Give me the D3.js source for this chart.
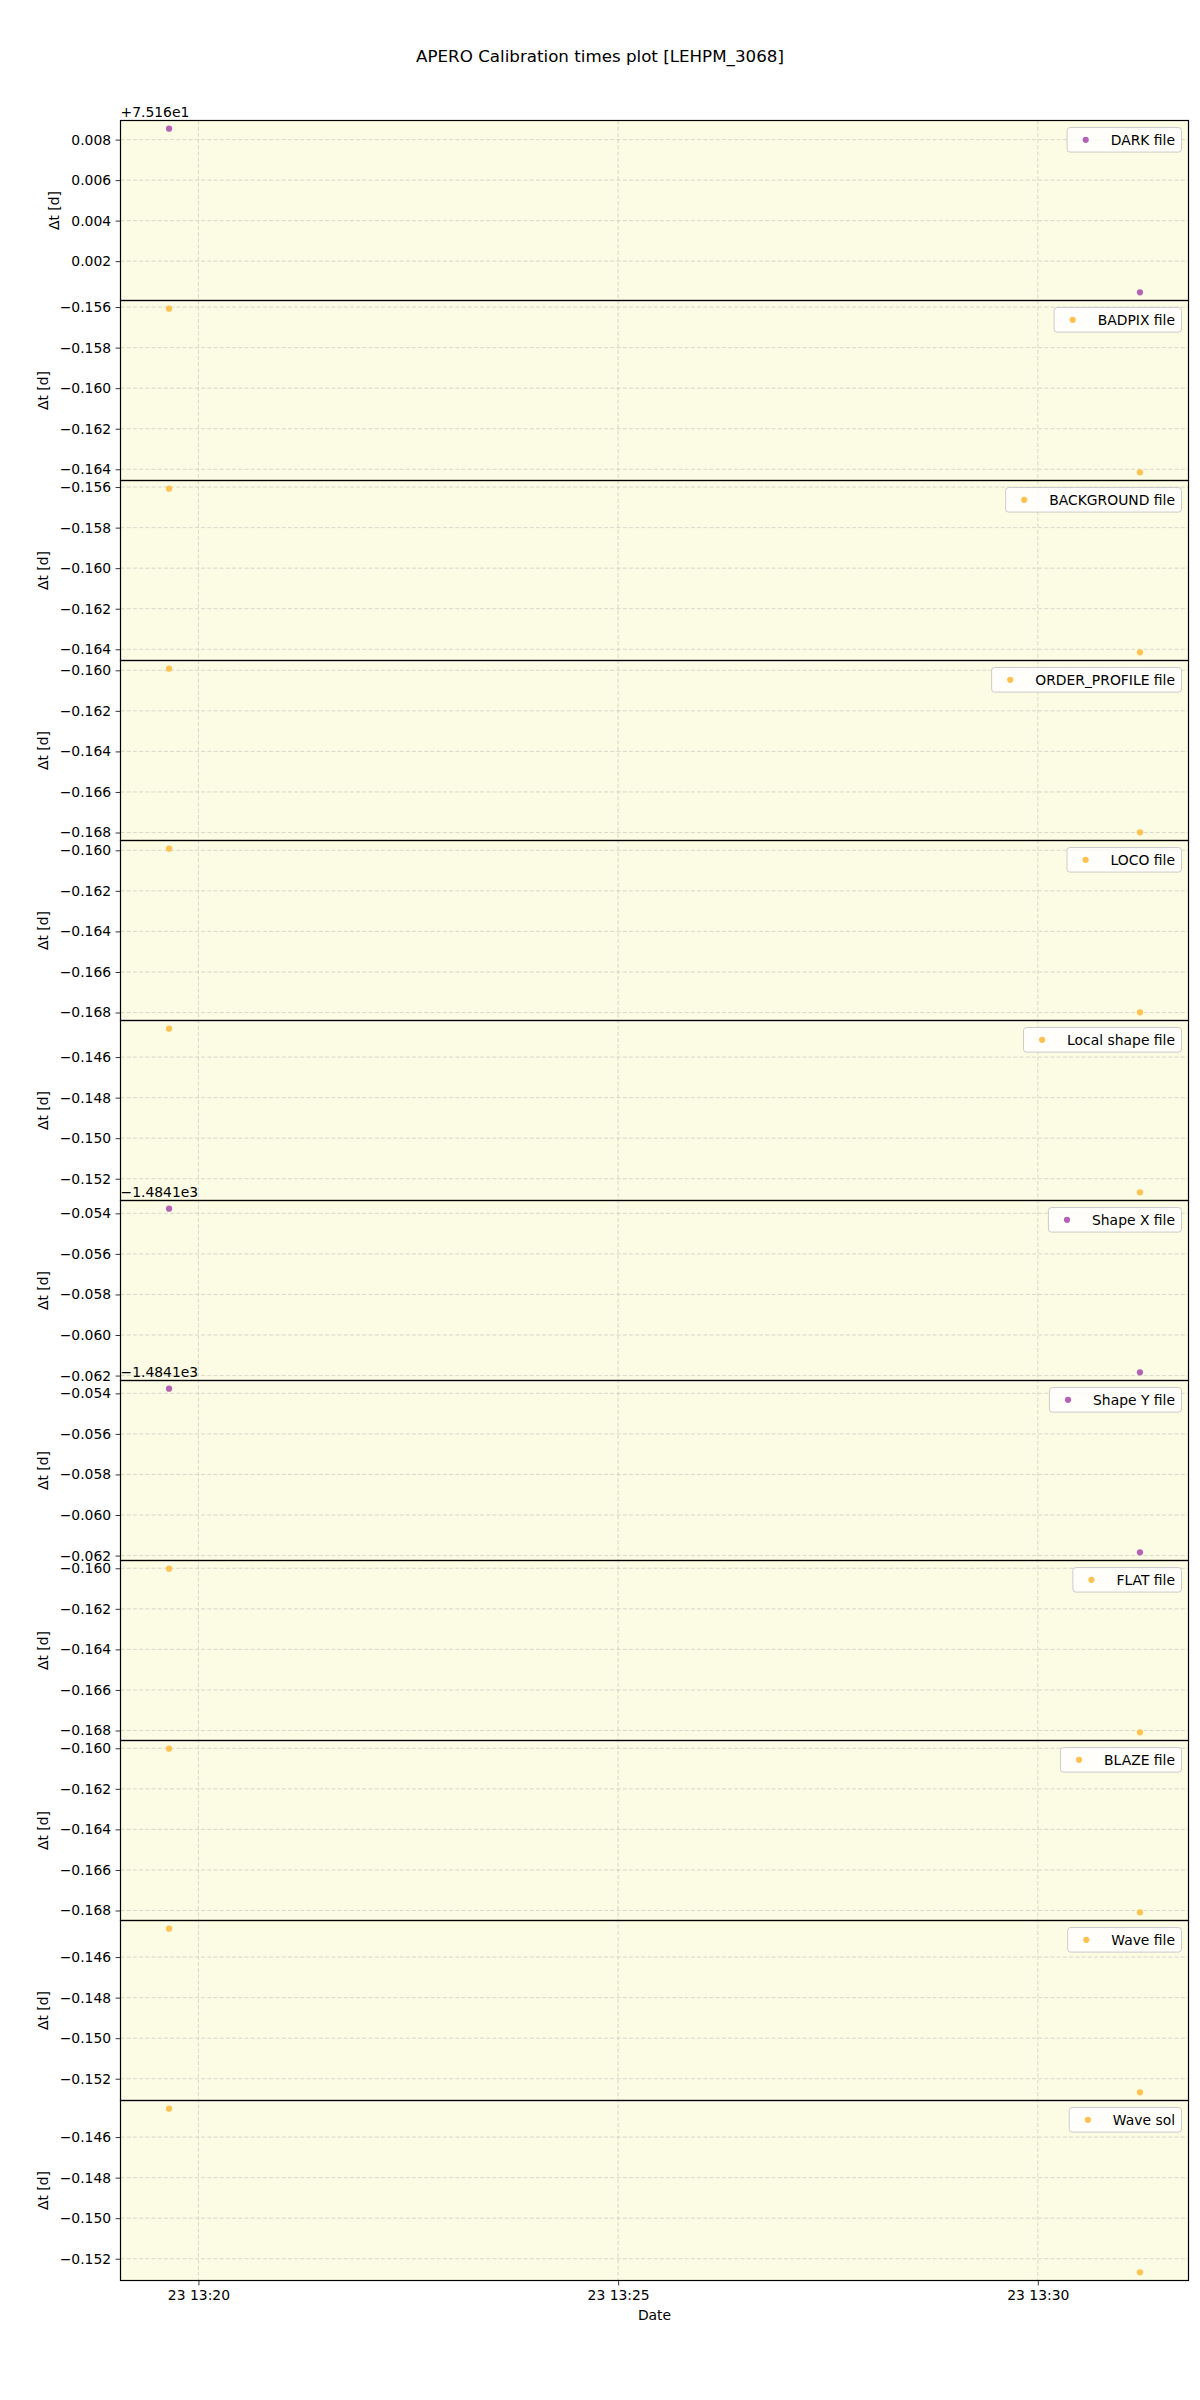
<!DOCTYPE html>
<html>
<head>
<meta charset="utf-8">
<script src="https://cdn.jsdelivr.net/npm/d3@7"></script>
<style>
  html, body { margin: 0; padding: 0; background: #ffffff; }
  svg { display: block; font-family: "DejaVu Sans", sans-serif; }
</style>
</head>
<body>
<svg id="chart" width="1200" height="2400"></svg>
<script>
// ---------------- data ----------------
const chartTitle = "APERO Calibration times plot [LEHPM_3068]";
const obsTimes = ["2023-01-23T13:19:39", "2023-01-23T13:31:13"];
const fileLabels = ["DARK file", "BADPIX file", "BACKGROUND file", "ORDER_PROFILE file",
  "LOCO file", "Local shape file", "Shape X file", "Shape Y file",
  "FLAT file", "BLAZE file", "Wave file", "Wave sol"];
const fileKinds = ["purple", "orange", "orange", "orange", "orange", "orange",
  "purple", "purple", "orange", "orange", "orange", "orange"];
// delta t [d] at the first and second observation
const dtFirst = [75.16854, -0.15608, -0.15608, -0.15992, -0.15992, -0.14460,
  -1484.15377, -1484.15377, -0.16002, -0.16002, -0.14460, -0.14460];
const dtSecond = [75.16046, -0.16415, -0.16415, -0.16799, -0.16799, -0.15267,
  -1484.16184, -1484.16184, -0.16809, -0.16809, -0.15267, -0.15267];
const axisOffsets = [75.16, 0, 0, 0, 0, 0, -1484.1, -1484.1, 0, 0, 0, 0];
const offsetLabels = ["+7.516e1", "", "", "", "", "", "\u22121.4841e3", "\u22121.4841e3", "", "", "", ""];
const yLabel = "\u0394t [d]";
const xLabel = "Date";

// ---------------- style ----------------
const markerFill = { purple: "#b462b4", orange: "#ffc150" };
const W = 1200;
const left = 120.5, right = 1188.5, top0 = 120.5, panelH = 180;
const nP = fileLabels.length;
const bottom = top0 + nP * panelH;
const bg = "#fcfbe3";
const tickFont = 13.9;

const svg = d3.select("#chart");
const parse = d3.isoParse;
const tDates = obsTimes.map(parse);
const tExt = d3.extent(tDates);
const tSpan = tExt[1] - tExt[0];
const x = d3.scaleTime()
  .domain([new Date(+tExt[0] - 0.05 * tSpan), new Date(+tExt[1] + 0.05 * tSpan)])
  .range([left, right]);
const xTicks = x.ticks(d3.timeMinute.every(5));

// title
svg.append("text")
  .attr("x", W / 2).attr("y", 62)
  .attr("text-anchor", "middle")
  .attr("font-size", 16.7)
  .attr("fill", "#000")
  .text(chartTitle);

const gBg = svg.append("g");
const gGrid = svg.append("g");
const gPts = svg.append("g");
const gAxes = svg.append("g");
const gLeg = svg.append("g");

for (let i = 0; i < nP; i++) {
  const pTop = top0 + i * panelH;
  const pBot = pTop + panelH;
  const off = axisOffsets[i];
  const vals = [dtFirst[i] - off, dtSecond[i] - off];
  const [vmin, vmax] = d3.extent(vals);
  const span = vmax - vmin;
  const y = d3.scaleLinear()
    .domain([vmin - 0.05 * span, vmax + 0.05 * span])
    .range([pBot, pTop]);
  const col = markerFill[fileKinds[i]];

  gBg.append("rect")
    .attr("x", left).attr("y", pTop)
    .attr("width", right - left).attr("height", panelH)
    .attr("fill", bg);

  const yTicks = y.ticks(5);
  // horizontal grid
  gGrid.selectAll(null).data(yTicks).enter().append("line")
    .attr("x1", left).attr("x2", right)
    .attr("y1", d => y(d)).attr("y2", d => y(d))
    .attr("stroke", "#b8b8b8").attr("stroke-opacity", 0.65)
    .attr("stroke-width", 0.8).attr("stroke-dasharray", "4,2.2");

  // points
  gPts.selectAll(null).data(vals).enter().append("circle")
    .attr("cx", (d, k) => x(tDates[k]))
    .attr("cy", d => y(d))
    .attr("r", 3.1)
    .attr("fill", col);

  // y axis
  const ax = gAxes.append("g").attr("transform", `translate(${left},0)`)
    .call(d3.axisLeft(y).tickValues(yTicks).tickSize(4.9).tickPadding(4.5)
      .tickFormat(d3.format(".3f")));
  ax.select(".domain").remove();
  ax.selectAll(".tick line").attr("stroke", "#000").attr("stroke-width", 0.8);
  ax.selectAll(".tick text").attr("font-size", tickFont).attr("fill", "#000")
    .attr("font-family", "DejaVu Sans, sans-serif");

  // y label positioned relative to widest tick label
  let minX = left;
  ax.selectAll(".tick text").each(function () {
    const b = this.getBBox();
    minX = Math.min(minX, left + b.x);
  });
  gAxes.append("text")
    .attr("transform", `translate(${minX - 12},${pTop + panelH / 2}) rotate(-90)`)
    .attr("text-anchor", "middle")
    .attr("font-size", tickFont)
    .attr("fill", "#000")
    .text(yLabel);

  // offset text
  if (offsetLabels[i]) {
    gAxes.append("text")
      .attr("x", left).attr("y", pTop - 4)
      .attr("font-size", tickFont).attr("fill", "#000")
      .text(offsetLabels[i]);
  }

  // frame
  gAxes.append("rect")
    .attr("x", left).attr("y", pTop)
    .attr("width", right - left).attr("height", panelH)
    .attr("fill", "none").attr("stroke", "#000").attr("stroke-width", 1.2);

  // legend
  const lg = gLeg.append("g");
  const txt = lg.append("text")
    .attr("font-size", tickFont).attr("fill", "#000")
    .text(fileLabels[i]);
  const tw = txt.node().getComputedTextLength();
  const boxR = right - 7;
  const textR = boxR - 6.5;
  const textL = textR - tw;
  const mx = textL - 25;
  const boxL = mx - 18.6;
  const boxT = pTop + 7;
  const boxH = 24.6;
  txt.attr("x", textL).attr("y", boxT + boxH / 2 + 5);
  lg.insert("rect", "text")
    .attr("x", boxL).attr("y", boxT)
    .attr("width", boxR - boxL).attr("height", boxH)
    .attr("rx", 3).attr("ry", 3)
    .attr("fill", "#ffffff").attr("fill-opacity", 0.8)
    .attr("stroke", "#cccccc").attr("stroke-width", 1);
  lg.append("circle")
    .attr("cx", mx).attr("cy", boxT + boxH / 2)
    .attr("r", 3.1)
    .attr("fill", col);
}

// vertical grid across all panels
gGrid.selectAll(null).data(xTicks).enter().append("line")
  .attr("x1", d => x(d)).attr("x2", d => x(d))
  .attr("y1", top0).attr("y2", bottom)
  .attr("stroke", "#b8b8b8").attr("stroke-opacity", 0.65)
  .attr("stroke-width", 0.8).attr("stroke-dasharray", "4,2.2");

// x axis at bottom
const xa = gAxes.append("g").attr("transform", `translate(0,${bottom})`)
  .call(d3.axisBottom(x).tickValues(xTicks).tickSize(4.9).tickPadding(4.5)
    .tickFormat(d3.timeFormat("%d %H:%M")));
xa.select(".domain").remove();
xa.selectAll(".tick line").attr("stroke", "#000").attr("stroke-width", 0.8);
xa.selectAll(".tick text").attr("font-size", tickFont).attr("fill", "#000")
  .attr("font-family", "DejaVu Sans, sans-serif");

svg.append("text")
  .attr("x", (left + right) / 2).attr("y", bottom + 39)
  .attr("text-anchor", "middle")
  .attr("font-size", tickFont).attr("fill", "#000")
  .text(xLabel);
</script>
</body>
</html>
